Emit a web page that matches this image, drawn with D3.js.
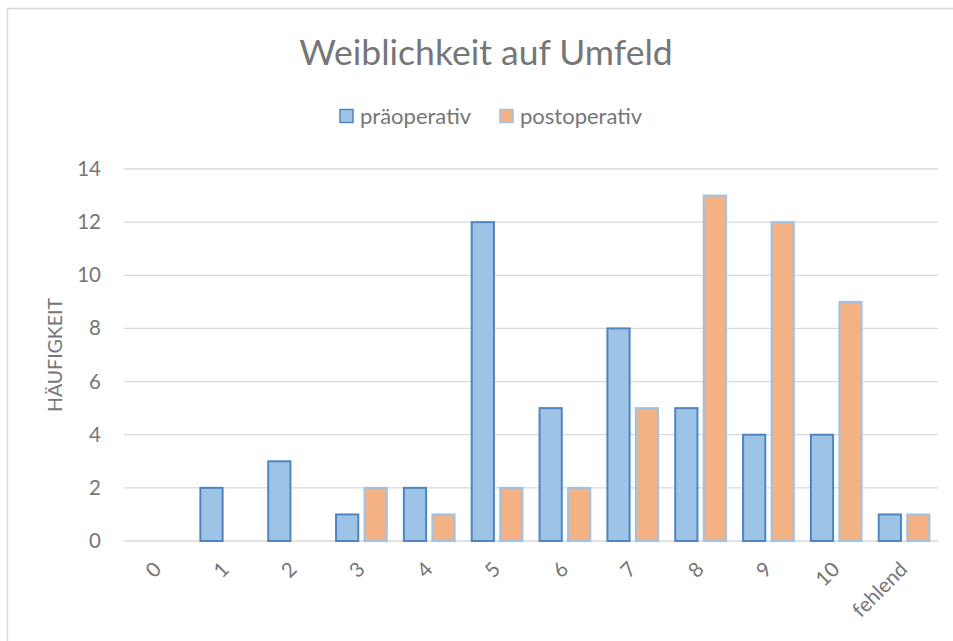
<!DOCTYPE html>
<html><head><meta charset="utf-8">
<script src="https://cdn.jsdelivr.net/npm/d3@7"></script>
<style>body{margin:0;background:#fff}svg{display:block}</style>
</head><body>
<svg id="c" width="953" height="641"></svg>
<script>
const categories = ["0","1","2","3","4","5","6","7","8","9","10","fehlend"];
const praeoperativ = [0,2,3,1,2,12,5,8,5,4,4,1];
const postoperativ = [0,0,0,2,1,2,2,5,13,12,9,1];
const yTicks = [0,2,4,6,8,10,12,14];
const seriesNames = ["präoperativ","postoperativ"];

const font = "Lato, 'Open Sans', sans-serif";
const txt = "#767676";
const svg = d3.select("#c");
svg.append("rect").attr("x",7.5).attr("y",8.5).attr("width",1000).attr("height",1000)
  .attr("fill","none").attr("stroke","#d9d9d9").attr("stroke-width",1.5);

const m = {l:124, r:938, t:169, b:541};
const x = d3.scaleBand().domain(categories).range([m.l,m.r]);
const y = d3.scaleLinear().domain([0,14]).range([m.b,m.t]);
const x1 = d3.scaleBand().domain([0,1]).range([0,x.bandwidth()]).paddingInner(0.22).paddingOuter(0.3);

svg.append("g").selectAll("line").data(yTicks).join("line")
  .attr("x1",m.l).attr("x2",m.r).attr("y1",d=>y(d)).attr("y2",d=>y(d))
  .attr("stroke","#d9d9d9").attr("stroke-width",1.3);

const yAxis = svg.append("g").attr("transform",`translate(${m.l},0)`)
  .call(d3.axisLeft(y).tickValues(yTicks).tickSize(0).tickPadding(23));
yAxis.select(".domain").remove();
yAxis.selectAll("text").attr("font-family",font).attr("font-size",20.5).attr("fill",txt);

const data = categories.map((c,i)=>({c, v:[praeoperativ[i], postoperativ[i]]}));
const fills = ["#9dc3e6","#f4b183"];
const strokes = ["#4f86c2","#9dc3e6"];
const g = svg.append("g");
data.forEach(d=>{
  d.v.forEach((v,s)=>{
    if(v<=0) return;
    g.append("rect")
      .attr("x",x(d.c)+x1(s)).attr("width",x1.bandwidth())
      .attr("y",y(v)).attr("height",y(0)-y(v))
      .attr("fill",fills[s]).attr("stroke",strokes[s]).attr("stroke-width",2);
  });
});

const xAxis = svg.append("g").attr("transform",`translate(0,${m.b})`)
  .call(d3.axisBottom(x).tickSize(0).tickPadding(0));
xAxis.select(".domain").remove();
xAxis.selectAll("text").attr("font-family",font).attr("font-size",20.5).attr("fill",txt)
  .attr("text-anchor","end").attr("dy",null)
  .attr("transform","translate(-1,24) rotate(-45)").attr("dominant-baseline","central");

svg.append("text").attr("x",486).attr("y",65).attr("text-anchor","middle")
  .attr("font-family",font).attr("font-size",35.5).attr("fill",txt).text("Weiblichkeit auf Umfeld");

svg.append("text").attr("transform","translate(62,355) rotate(-90)").attr("text-anchor","middle")
  .attr("font-family",font).attr("font-size",19.5).attr("fill",txt).text("HÄUFIGKEIT");

const legX = [340, 500];
seriesNames.forEach((n,i)=>{
  svg.append("rect").attr("x",legX[i]).attr("y",109.5).attr("width",13).attr("height",13)
    .attr("fill",fills[i]).attr("stroke",strokes[i]).attr("stroke-width",1.5);
  svg.append("text").attr("x",legX[i]+20).attr("y",123.5).attr("font-family",font)
    .attr("font-size",22).attr("fill",txt).text(n);
});
</script>
</body></html>
